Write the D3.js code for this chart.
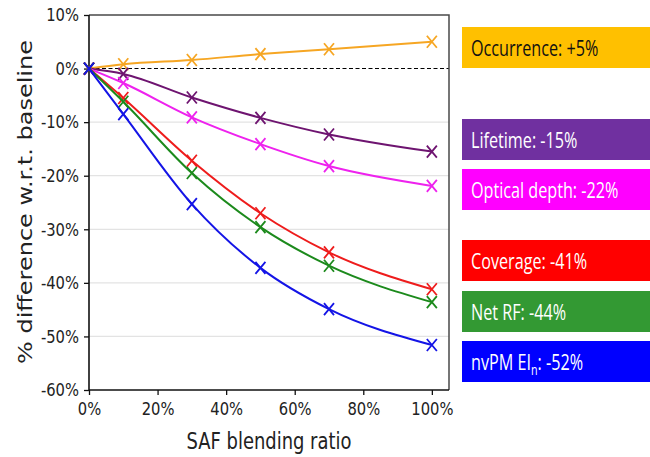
<!DOCTYPE html>
<html>
<head>
<meta charset="utf-8">
<script src="https://cdn.jsdelivr.net/npm/d3@7"></script>
<style>
  body { margin: 0; background: #fff; }
  svg { display: block; }
</style>
</head>
<body>
<div id="chart"></div>
<script>
// data
var blendRatio = [0, 0.1, 0.3, 0.5, 0.7, 1.0];
var occurrence = [0, 0.8, 1.6, 2.7, 3.6, 5.0];
var lifetime = [0, -1.0, -5.4, -9.2, -12.3, -15.5];
var opticalDepth = [0, -2.7, -9.1, -14.1, -18.2, -21.9];
var coverage = [0, -5.5, -17.2, -27.0, -34.3, -41.2];
var netRF = [0, -6.2, -19.5, -29.6, -36.8, -43.6];
var nvpm = [0, -8.5, -25.3, -37.2, -44.9, -51.6];

var seriesNames = ['Occurrence', 'Lifetime', 'Optical depth', 'Coverage', 'Net RF', 'nvPM EIn'];
var seriesValues = [occurrence, lifetime, opticalDepth, coverage, netRF, nvpm];
var lineColors = ['#F6A623', '#6E1470', '#EE22EE', '#EE1C1C', '#1C8A1C', '#1414E6'];

var legendLabels = ['Occurrence: +5%', 'Lifetime: -15%', 'Optical depth: -22%', 'Coverage: -41%', 'Net RF: -44%', 'nvPM EI|n|: -52%'];
var legendFill = ['#FFC000', '#7030A0', '#FF00FF', '#FF0000', '#339933', '#0000FF'];
var legendText = ['#111', '#fff', '#fff', '#fff', '#fff', '#fff'];
var legendTop = [27, 119, 169, 240, 291, 341];

var xTicks = [0, 0.2, 0.4, 0.6, 0.8, 1.0];
var yTicks = [10, 0, -10, -20, -30, -40, -50, -60];

var width = 650, height = 457;
var margin = { left: 89, top: 15, right: 201, bottom: 67 };
var innerWidth = width - margin.left - margin.right;
var innerHeight = height - margin.top - margin.bottom;
var squash = 0.78; // the source figure is narrowed horizontally

var x = d3.scaleLinear().domain([0, 1.05]).range([0, innerWidth]);
var y = d3.scaleLinear().domain([-60, 10]).range([innerHeight, 0]);

var svg = d3.select('#chart').append('svg')
  .attr('width', width)
  .attr('height', height);

var g = svg.append('g')
  .attr('transform', 'translate(' + margin.left + ',' + margin.top + ')');

// horizontal grid
g.append('g')
  .selectAll('line')
  .data(yTicks.filter(function (t) { return t < 0 && t > -60; }))
  .enter().append('line')
  .attr('x1', 0).attr('x2', innerWidth)
  .attr('y1', function (d) { return y(d); })
  .attr('y2', function (d) { return y(d); })
  .attr('stroke', '#e3e3e3').attr('stroke-width', 1.2);

// zero line
g.append('line')
  .attr('x1', 0).attr('x2', innerWidth)
  .attr('y1', y(0)).attr('y2', y(0))
  .attr('stroke', '#000').attr('stroke-width', 1.1)
  .attr('stroke-dasharray', '4,2.5');

// top/right frame
g.append('path')
  .attr('d', 'M0,0H' + innerWidth + 'V' + innerHeight)
  .attr('fill', 'none').attr('stroke', '#4a4a4a').attr('stroke-width', 1.5);

var fmt = function (d) { return Math.round(d) + '%'; };

var xAxis = g.append('g')
  .attr('transform', 'translate(0,' + innerHeight + ')')
  .call(d3.axisBottom(x).tickValues(xTicks).tickSize(5).tickPadding(5)
    .tickFormat(function (d) { return fmt(d * 100); }));
var yAxis = g.append('g')
  .call(d3.axisLeft(y).tickValues(yTicks).tickSize(5).tickPadding(5).tickFormat(fmt));

[xAxis, yAxis].forEach(function (ax) {
  ax.select('.domain').attr('stroke', '#111').attr('stroke-width', 1.6);
  ax.selectAll('.tick line').attr('stroke', '#111').attr('stroke-width', 1.3);
  ax.selectAll('.tick text')
    .attr('fill', '#222')
    .style('font-family', 'DejaVu Sans, sans-serif')
    .style('font-size', '18px')
    .each(function () {
      var t = d3.select(this);
      var tx = +t.attr('x') || 0;
      t.attr('x', 0).attr('transform', 'translate(' + tx + ',0) scale(' + 0.82 + ',1)');
    });
});
xAxis.select('.domain').attr('d', 'M0,0H' + innerWidth);
yAxis.select('.domain').attr('d', 'M0,0V' + innerHeight);
xAxis.selectAll('.tick text').attr('dy', '0.85em');

// axis titles
svg.append('text')
  .attr('transform', 'translate(269,449) scale(' + squash + ',1)')
  .attr('text-anchor', 'middle')
  .style('font-family', 'DejaVu Sans, sans-serif')
  .style('font-size', '23px')
  .attr('fill', '#222')
  .text('SAF blending ratio');

svg.append('text')
  .attr('transform', 'translate(32,202) scale(' + squash + ',1) rotate(-90)')
  .attr('text-anchor', 'middle')
  .style('font-family', 'DejaVu Sans, sans-serif')
  .style('font-size', '24px')
  .attr('fill', '#222')
  .text('% difference w.r.t. baseline');

// series
var line = d3.line()
  .x(function (d) { return x(d[0]); })
  .y(function (d) { return y(d[1]); })
  .curve(d3.curveMonotoneX);

var mx = 5, my = 6;
seriesValues.forEach(function (vals, i) {
  var pts = blendRatio.map(function (b, k) { return [b, vals[k]]; });
  var sg = g.append('g').attr('class', 'series');
  sg.append('path')
    .attr('d', line(pts))
    .attr('fill', 'none')
    .attr('stroke', lineColors[i])
    .attr('stroke-width', 2);
  sg.selectAll('path.mk')
    .data(pts)
    .enter().append('path')
    .attr('class', 'mk')
    .attr('d', function (d) {
      var cx = x(d[0]), cy = y(d[1]);
      return 'M' + (cx - mx) + ',' + (cy - my) + 'L' + (cx + mx) + ',' + (cy + my) +
             'M' + (cx - mx) + ',' + (cy + my) + 'L' + (cx + mx) + ',' + (cy - my);
    })
    .attr('stroke', lineColors[i])
    .attr('stroke-width', 1.8);
});

// coloured label boxes on the right
var boxes = svg.append('g');
legendLabels.forEach(function (lab, i) {
  boxes.append('rect')
    .attr('x', 462).attr('y', legendTop[i])
    .attr('width', 188).attr('height', 41)
    .attr('fill', legendFill[i]);
  var t = boxes.append('text')
    .attr('transform', 'translate(471,' + (legendTop[i] + 29) + ') scale(0.77,1)')
    .attr('fill', legendText[i])
    .style('font-family', '"Open Sans", sans-serif')
    .style('font-size', '21px');
  var parts = lab.split('|');
  t.append('tspan').text(parts[0]);
  if (parts.length > 1) {
    t.append('tspan').attr('dy', 5).style('font-size', '14px').text(parts[1]);
    t.append('tspan').attr('dy', -5).text(parts[2]);
  }
});
</script>
</body>
</html>
